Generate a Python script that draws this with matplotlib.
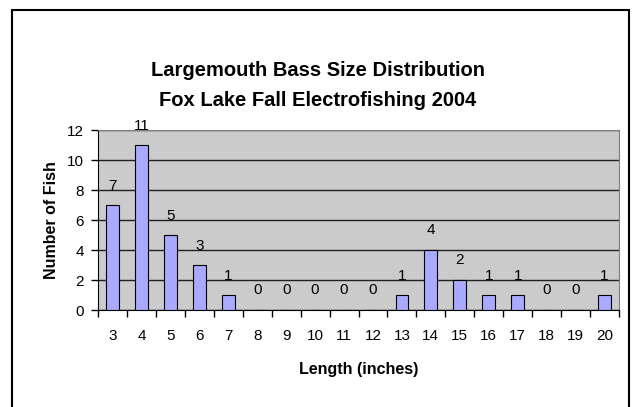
import numpy as np
import matplotlib.pyplot as plt
from matplotlib.patches import Rectangle

plt.rcParams['font.family'] = ['Liberation Sans', 'DejaVu Sans']
NARROW = ['Liberation Sans Narrow', 'Liberation Sans', 'DejaVu Sans']

lengths = ['3', '4', '5', '6', '7', '8', '9', '10', '11', '12',
           '13', '14', '15', '16', '17', '18', '19', '20']
counts = [7, 11, 5, 3, 1, 0, 0, 0, 0, 0, 1, 4, 2, 1, 1, 0, 0, 1]

fig = plt.figure(figsize=(6.36, 4.07), dpi=100)
W, H = 636, 407

# outer chart border (bottom edge runs off the picture)
fig.patches.append(Rectangle((12 / W, -0.05), (629 - 12) / W, 1.05 - 10 / H,
                             transform=fig.transFigure, fill=False,
                             edgecolor='black', linewidth=1.5))

ax = fig.add_axes([98 / W, 1 - 310 / H, (619 - 98) / W, (310 - 130) / H])
ax.set_facecolor('#cbcbcb')

x = np.arange(len(lengths))
ax.bar(x, counts, width=0.44, color='#a9a9ff', edgecolor='black',
       linewidth=0.8, zorder=3)

for xi, c in zip(x, counts):
    ax.annotate(str(c), (xi, c), xytext=(0, 9), textcoords='offset points',
                ha='center', va='bottom', fontsize=11, family=NARROW)

ax.set_xlim(-0.5, len(lengths) - 0.5)
ax.set_ylim(0, 12)
ax.set_yticks(range(0, 13, 2))
ax.yaxis.grid(True, color='#202020', linewidth=1.0, zorder=1)
ax.set_axisbelow(True)

ax.set_xticks(x)
ax.set_xticklabels(lengths)
ax.set_xticks(np.arange(-0.5, len(lengths), 1), minor=True)
ax.tick_params(axis='x', which='major', length=0, pad=14, labelsize=11)
ax.tick_params(axis='x', which='minor', length=5, width=1, direction='out')
ax.tick_params(axis='y', length=5, width=1, pad=5, labelsize=11)
for lab in ax.get_xticklabels() + ax.get_yticklabels():
    lab.set_family(NARROW)

for side in ['top', 'right']:
    ax.spines[side].set_color('#808080')
ax.spines['left'].set_color('black')
ax.spines['bottom'].set_color('black')

ax.set_ylabel('Number of Fish', fontsize=11.5, fontweight='bold')
ax.yaxis.set_label_coords(-0.075, 0.5)
ax.set_xlabel('Length (inches)', fontsize=11.5, fontweight='bold')
ax.xaxis.set_label_coords(0.5, -0.29)

fig.text(318 / W, 1 - 70 / H, 'Largemouth Bass Size Distribution',
         ha='center', va='center', fontsize=14.5, fontweight='bold')
fig.text(318 / W, 1 - 100 / H, 'Fox Lake Fall Electrofishing 2004',
         ha='center', va='center', fontsize=14.5, fontweight='bold')

fig.savefig('out.png', dpi=100)
